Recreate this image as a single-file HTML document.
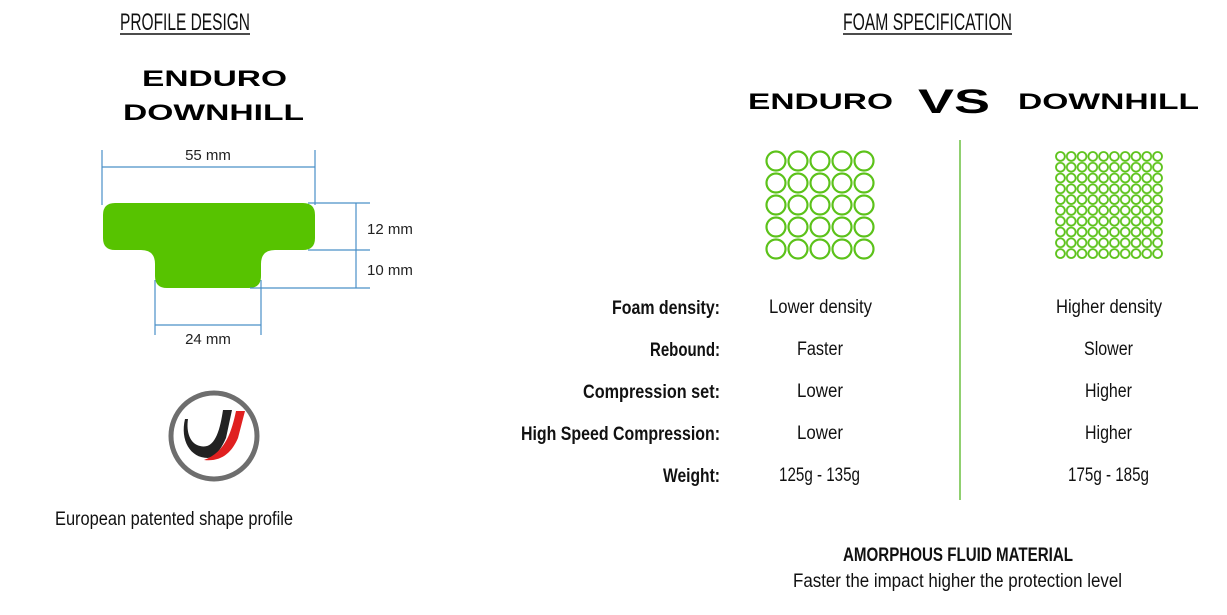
<!DOCTYPE html>
<html><head><meta charset="utf-8"><style>
html,body{margin:0;padding:0;background:#fff;}
svg{display:block;}
text{font-family:"Liberation Sans",sans-serif;}
</style></head><body>
<svg width="1227" height="615" viewBox="0 0 1227 615" xmlns="http://www.w3.org/2000/svg">
<defs>
<pattern id="big" x="765" y="150" width="22" height="22" patternUnits="userSpaceOnUse">
<circle cx="11" cy="11" r="9.5" fill="none" stroke="#5cc21a" stroke-width="2.2"/>
</pattern>
<pattern id="small" x="1055" y="151" width="10.8" height="10.8" patternUnits="userSpaceOnUse">
<circle cx="5.4" cy="5.4" r="4.4" fill="none" stroke="#5cc21a" stroke-width="1.8"/>
</pattern>
</defs>
<!-- headers -->
<text x="120" y="30" font-size="24" textLength="130" lengthAdjust="spacingAndGlyphs" fill="#111">PROFILE DESIGN</text>
<line x1="120" y1="34" x2="250" y2="34" stroke="#111" stroke-width="1.5"/>
<text x="843" y="30" font-size="24" textLength="169" lengthAdjust="spacingAndGlyphs" fill="#111">FOAM SPECIFICATION</text>
<line x1="843" y1="34" x2="1012" y2="34" stroke="#111" stroke-width="1.5"/>

<text x="142" y="86" font-size="22" font-weight="bold" textLength="145" lengthAdjust="spacingAndGlyphs">ENDURO</text>
<text x="123" y="120" font-size="22" font-weight="bold" textLength="181" lengthAdjust="spacingAndGlyphs">DOWNHILL</text>

<text x="748" y="109" font-size="22" font-weight="bold" textLength="145" lengthAdjust="spacingAndGlyphs">ENDURO</text>
<text x="918" y="113" font-size="34" font-weight="bold" textLength="72" lengthAdjust="spacingAndGlyphs">VS</text>
<text x="1018" y="109" font-size="22" font-weight="bold" textLength="181" lengthAdjust="spacingAndGlyphs">DOWNHILL</text>

<!-- profile shape -->
<path d="M115,203 H303 Q315,203 315,215 V238 Q315,250 303,250 H275 Q261,250 261,264 V276 Q261,288 249,288 H167 Q155,288 155,276 V264 Q155,250 141,250 H115 Q103,250 103,238 V215 Q103,203 115,203 Z" fill="#57c300"/>
<g stroke="#4a90c8" stroke-width="1.2" fill="none">
<line x1="102" y1="150" x2="102" y2="205"/>
<line x1="315" y1="150" x2="315" y2="205"/>
<line x1="102" y1="167" x2="315" y2="167"/>
<line x1="308" y1="203" x2="370" y2="203"/>
<line x1="308" y1="250" x2="370" y2="250"/>
<line x1="250" y1="288" x2="370" y2="288"/>
<line x1="356" y1="203" x2="356" y2="288"/>
<line x1="155" y1="280" x2="155" y2="335"/>
<line x1="261" y1="280" x2="261" y2="335"/>
<line x1="155" y1="325" x2="261" y2="325"/>
</g>
<text x="208" y="160" font-size="15" text-anchor="middle" fill="#222">55 mm</text>
<text x="367" y="234" font-size="15" fill="#222">12 mm</text>
<text x="367" y="275" font-size="15" fill="#222">10 mm</text>
<text x="208" y="344" font-size="15" text-anchor="middle" fill="#222">24 mm</text>
<rect x="416" y="200" width="30" height="90" fill="#fff"/>

<!-- logo -->
<circle cx="214" cy="436" r="43" fill="none" stroke="#6e6e6e" stroke-width="5"/>
<path d="M185,419 C180,440 190,458 208,458 C217,456 222,447 226,438 L232,410 L223,410 C220,430 215,450 200,446 C190,444 186,432 188,419 Z" fill="#222"/>
<path d="M204,460 C222,462 232,452 238,438 L245,411 L236,411 C232,430 226,452 204,460 Z" fill="#e02020"/>

<text x="174" y="525" font-size="19" text-anchor="middle" textLength="238" lengthAdjust="spacingAndGlyphs" fill="#111">European patented shape profile</text>

<!-- foam grids -->
<rect x="765" y="150" width="110" height="110" fill="url(#big)"/>
<rect x="1055" y="151" width="108" height="108" fill="url(#small)"/>
<line x1="960" y1="140" x2="960" y2="500" stroke="#6cc040" stroke-width="1.5"/>

<!-- table -->
<g font-size="19" font-weight="bold" fill="#111">
<text x="612" y="314" textLength="108" lengthAdjust="spacingAndGlyphs">Foam density:</text>
<text x="650" y="356" textLength="70" lengthAdjust="spacingAndGlyphs">Rebound:</text>
<text x="583" y="398" textLength="137" lengthAdjust="spacingAndGlyphs">Compression set:</text>
<text x="521" y="440" textLength="199" lengthAdjust="spacingAndGlyphs">High Speed Compression:</text>
<text x="663" y="482" textLength="57" lengthAdjust="spacingAndGlyphs">Weight:</text>
</g>
<g font-size="19" fill="#111">
<text x="769" y="313" textLength="103" lengthAdjust="spacingAndGlyphs">Lower density</text>
<text x="797" y="355" textLength="46" lengthAdjust="spacingAndGlyphs">Faster</text>
<text x="797" y="397" textLength="46" lengthAdjust="spacingAndGlyphs">Lower</text>
<text x="797" y="439" textLength="46" lengthAdjust="spacingAndGlyphs">Lower</text>
<text x="779" y="481" textLength="81" lengthAdjust="spacingAndGlyphs">125g - 135g</text>
<text x="1056" y="313" textLength="106" lengthAdjust="spacingAndGlyphs">Higher density</text>
<text x="1084" y="355" textLength="49" lengthAdjust="spacingAndGlyphs">Slower</text>
<text x="1085" y="397" textLength="47" lengthAdjust="spacingAndGlyphs">Higher</text>
<text x="1085" y="439" textLength="47" lengthAdjust="spacingAndGlyphs">Higher</text>
<text x="1068" y="481" textLength="81" lengthAdjust="spacingAndGlyphs">175g - 185g</text>
</g>

<text x="843" y="561" font-size="19" font-weight="bold" textLength="230" lengthAdjust="spacingAndGlyphs" fill="#111">AMORPHOUS FLUID MATERIAL</text>
<text x="793" y="587" font-size="19" textLength="329" lengthAdjust="spacingAndGlyphs" fill="#111">Faster the impact higher the protection level</text>
</svg>
</body></html>
